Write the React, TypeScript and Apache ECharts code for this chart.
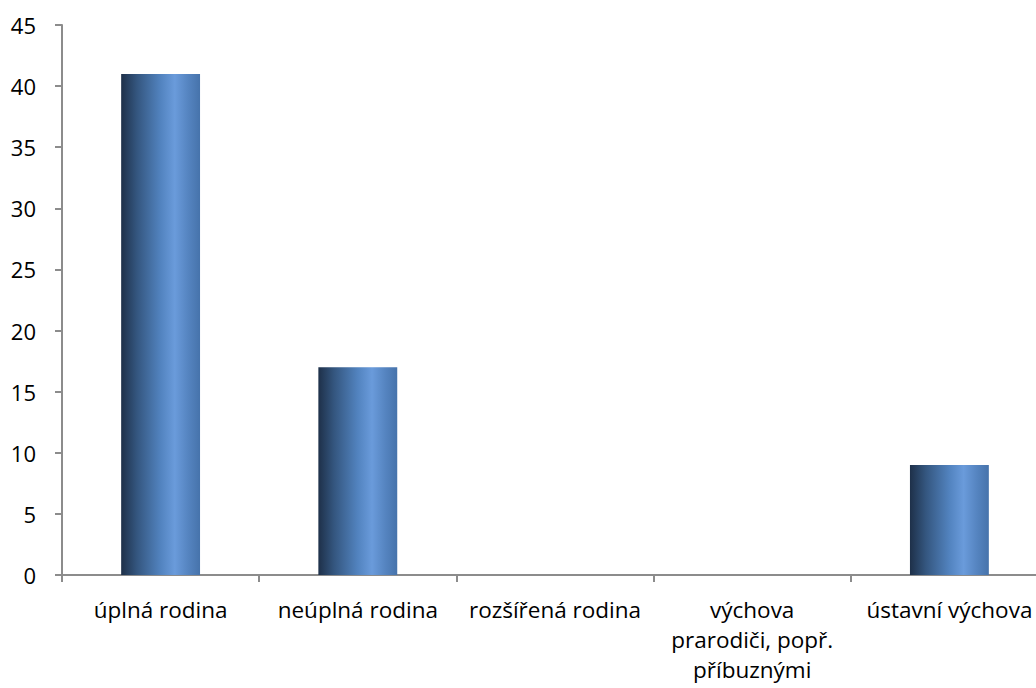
import React, { useEffect, useRef } from "react";
import * as echarts from "echarts";

const categories = [
  "úplná rodina",
  "neúplná rodina",
  "rozšířená rodina",
  "výchova\nprarodiči, popř.\npříbuznými",
  "ústavní výchova",
];
const values = [41, 17, 0, 0, 9];
const yTicks = { min: 0, max: 45, interval: 5 };

export default function App() {
  const ref = useRef<HTMLDivElement>(null);
  useEffect(() => {
    if (!ref.current) return;
    const chart = echarts.init(ref.current, null, { renderer: "svg" });
    const font = "'Open Sans', 'DejaVu Sans', sans-serif";
    chart.setOption({
      animation: false,
      backgroundColor: "#ffffff",
      grid: {
        left: 62,
        top: 25,
        height: 550,
        width: 986,
        containLabel: false,
        outerBoundsMode: "none",
      },
      xAxis: {
        type: "category",
        data: categories,
        axisLine: { show: true, lineStyle: { color: "#8c8c8c", width: 2 } },
        axisTick: { show: true, length: 7, alignWithLabel: false, lineStyle: { color: "#8c8c8c", width: 2 } },
        axisLabel: {
          interval: 0,
          hideOverlap: false,
          margin: 19,
          color: "#000",
          fontSize: 22.5,
          lineHeight: 30,
          fontFamily: font,
        },
        splitLine: { show: false },
      },
      yAxis: {
        type: "value",
        min: yTicks.min,
        max: yTicks.max,
        interval: yTicks.interval,
        axisLine: { show: true, lineStyle: { color: "#8c8c8c", width: 2 } },
        axisTick: { show: true, length: 7, lineStyle: { color: "#8c8c8c", width: 2 } },
        axisLabel: { margin: 26, color: "#000", fontSize: 22, fontFamily: font },
        splitLine: { show: false },
      },
      series: [
        {
          type: "bar",
          data: values,
          barWidth: "40%",
          itemStyle: {
            borderWidth: 0,
            color: new echarts.graphic.LinearGradient(0, 0, 1, 0, [
              { offset: 0, color: "#1e3049" },
              { offset: 0.2, color: "#34567f" },
              { offset: 0.5, color: "#5283bf" },
              { offset: 0.68, color: "#6a9bdb" },
              { offset: 0.85, color: "#5584c0" },
              { offset: 1, color: "#4673ab" },
            ]),
          },
        },
      ],
    });
    return () => chart.dispose();
  }, []);
  return (
    <div
      ref={ref}
      style={{ position: "absolute", left: 0, top: 0, width: 1036, height: 688 }}
    />
  );
}
